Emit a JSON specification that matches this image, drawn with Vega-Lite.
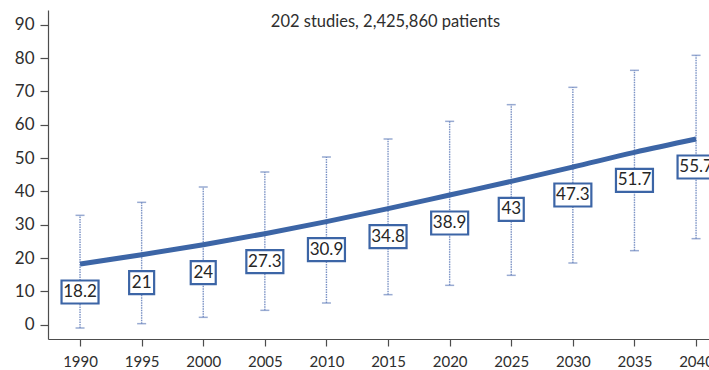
{
  "$schema": "https://vega.github.io/schema/vega-lite/v6.json",
  "width": 661,
  "height": 329,
  "autosize": {"type": "none"},
  "padding": {"left": 48, "top": 10, "right": 0, "bottom": 31},
  "background": "white",
  "config": {
    "view": {"stroke": null},
    "font": "Lato",
    "axis": {
      "grid": false,
      "title": null,
      "domainColor": "#4d4d4d",
      "domainWidth": 1.2,
      "tickColor": "#4d4d4d",
      "tickWidth": 1.2,
      "labelColor": "#2e2e2e",
      "labelFont": "Lato",
      "labelOverlap": false
    }
  },
  "title": {
    "text": "202 studies, 2,425,860 patients",
    "anchor": "middle",
    "frame": "group",
    "orient": "top",
    "baseline": "middle",
    "offset": -8,
    "dy": 20,
    "dx": 7,
    "fontSize": 16.5,
    "fontWeight": "normal",
    "font": "Lato",
    "color": "#2e2e2e"
  },
  "data": {
    "values": [
      {"year": 1990, "low": -1.0, "high": 32.8, "prevalence": 18.2},
      {"year": 1995, "low": 0.3, "high": 36.7, "prevalence": 21},
      {"year": 2000, "low": 2.2, "high": 41.3, "prevalence": 24},
      {"year": 2005, "low": 4.3, "high": 45.8, "prevalence": 27.3},
      {"year": 2010, "low": 6.5, "high": 50.3, "prevalence": 30.9},
      {"year": 2015, "low": 9.0, "high": 55.7, "prevalence": 34.8},
      {"year": 2020, "low": 11.8, "high": 61.0, "prevalence": 38.9},
      {"year": 2025, "low": 14.8, "high": 66.0, "prevalence": 43},
      {"year": 2030, "low": 18.5, "high": 71.2, "prevalence": 47.3},
      {"year": 2035, "low": 22.2, "high": 76.3, "prevalence": 51.7},
      {"year": 2040, "low": 25.8, "high": 80.8, "prevalence": 55.7}
    ]
  },
  "encoding": {
    "x": {
      "field": "year",
      "type": "quantitative",
      "scale": {"domain": [1987.4, 2041.05], "nice": false, "zero": false},
      "axis": {
        "values": [1990, 1995, 2000, 2005, 2010, 2015, 2020, 2025, 2030, 2035, 2040],
        "format": "d",
        "tickSize": 7,
        "labelPadding": 8,
        "labelFontSize": 15,
        "labelFlush": false
      }
    }
  },
  "layer": [
    {
      "mark": {"type": "rule", "color": "#7890c4", "strokeWidth": 1.4, "strokeDash": [1.5, 1]},
      "encoding": {
        "y": {
          "field": "low",
          "type": "quantitative",
          "scale": {"domain": [-4.3, 94.4], "nice": false, "zero": false},
          "axis": {"values": [0, 10, 20, 30, 40, 50, 60, 70, 80, 90], "tickSize": 8, "labelPadding": 6, "labelFontSize": 17}
        },
        "y2": {"field": "high"}
      }
    },
    {
      "mark": {"type": "tick", "orient": "horizontal", "color": "#6e88bf", "size": 9, "thickness": 1.5},
      "encoding": {
        "y": {
          "field": "high",
          "type": "quantitative",
          "axis": {"values": [0, 10, 20, 30, 40, 50, 60, 70, 80, 90], "tickSize": 8, "labelPadding": 6, "labelFontSize": 17}
        }
      }
    },
    {
      "mark": {"type": "tick", "orient": "horizontal", "color": "#6e88bf", "size": 9, "thickness": 1.5},
      "encoding": {
        "y": {
          "field": "low",
          "type": "quantitative",
          "axis": {"values": [0, 10, 20, 30, 40, 50, 60, 70, 80, 90], "tickSize": 8, "labelPadding": 6, "labelFontSize": 17}
        }
      }
    },
    {
      "mark": {"type": "line", "color": "#3c65a6", "strokeWidth": 5, "interpolate": "monotone", "strokeCap": "butt"},
      "encoding": {
        "y": {
          "field": "prevalence",
          "type": "quantitative",
          "axis": {"values": [0, 10, 20, 30, 40, 50, 60, 70, 80, 90], "tickSize": 8, "labelPadding": 6, "labelFontSize": 17}
        }
      }
    },
    {
      "transform": [{"filter": "floor(datum.prevalence) != datum.prevalence"}],
      "mark": {"type": "rect", "width": 37, "height": 23, "yOffset": 28, "fill": "white", "stroke": "#3c65a6", "strokeWidth": 2.2},
      "encoding": {
        "y": {
          "field": "prevalence",
          "type": "quantitative",
          "axis": {"values": [0, 10, 20, 30, 40, 50, 60, 70, 80, 90], "tickSize": 8, "labelPadding": 6, "labelFontSize": 17}
        }
      }
    },
    {
      "transform": [{"filter": "floor(datum.prevalence) == datum.prevalence"}],
      "mark": {"type": "rect", "width": 25, "height": 23, "yOffset": 28, "fill": "white", "stroke": "#3c65a6", "strokeWidth": 2.2},
      "encoding": {
        "y": {
          "field": "prevalence",
          "type": "quantitative",
          "axis": {"values": [0, 10, 20, 30, 40, 50, 60, 70, 80, 90], "tickSize": 8, "labelPadding": 6, "labelFontSize": 17}
        }
      }
    },
    {
      "mark": {"type": "text", "yOffset": 28, "baseline": "middle", "align": "center", "fontSize": 17, "color": "#262626", "font": "Lato"},
      "encoding": {
        "y": {
          "field": "prevalence",
          "type": "quantitative",
          "axis": {"values": [0, 10, 20, 30, 40, 50, 60, 70, 80, 90], "tickSize": 8, "labelPadding": 6, "labelFontSize": 17}
        },
        "text": {"field": "prevalence", "type": "quantitative"}
      }
    }
  ]
}
